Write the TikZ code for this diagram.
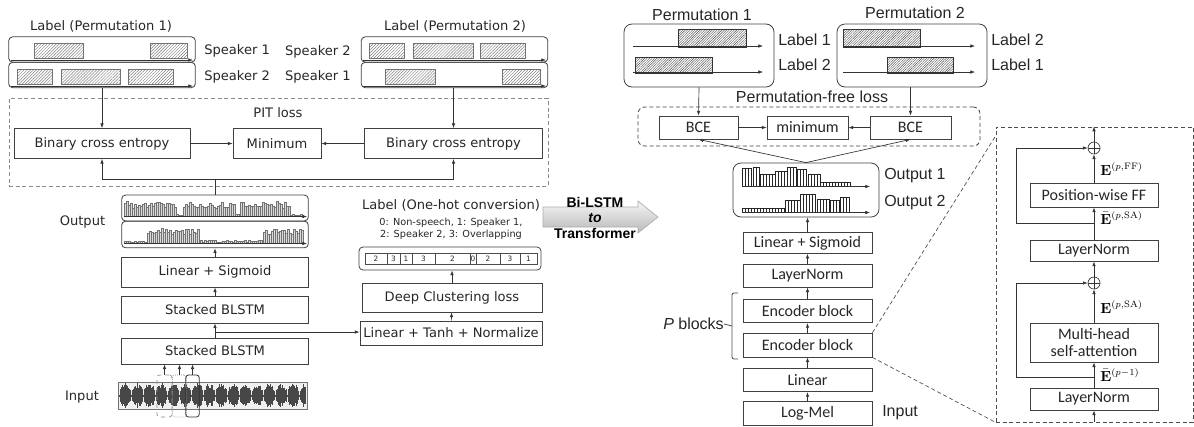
\documentclass[tikz,border=0pt]{standalone}
\usepackage[no-math]{fontspec}
\setmainfont{Liberation Sans}
\newfontfamily\dejavu{DejaVu Sans}
\newfontfamily\carlito{Carlito}
\usetikzlibrary{positioning,arrows.meta,patterns.meta}
\newcommand\ltxt{\dejavu\fontsize{9.8}{11.5}\selectfont}
\newcommand\stxt{\dejavu\fontsize{7.3}{9}\selectfont}
\newcommand\ctxt{\carlito\fontsize{12}{12.8}\selectfont}
\newcommand\atxt{\fontsize{12}{14}\selectfont}

\begin{document}
\begin{tikzpicture}[
  x=0.75pt,y=-0.75pt,
  >={Latex[length=3.5pt,width=2.6pt]},
  every node/.style={inner sep=0pt},
  ltext/.style={font=\ltxt,text=black!85},
  ttext/.style={font=\atxt,text=black!85},
  mtext/.style={anchor=west,font=\fontsize{10.5}{12}\selectfont},
  lbox/.style={draw=black!75,line width=0.6pt,font=\ltxt,text=black!85},
  cbox/.style={draw=black!75,line width=0.6pt,font=\ctxt,text=black!85,minimum width=96.75pt},
  trackbox/.style={draw=black!75,line width=0.6pt,rounded corners=3pt},
  lossframe/.style={draw=black!45,line width=0.7pt,densely dashed},
  hatchL/.style={draw=black!55,line width=0.3pt,pattern={Lines[angle=45,distance=1.6pt,line width=0.35pt]},pattern color=black!50},
  hatchR/.style={draw=black!80,line width=0.4pt,pattern={Lines[angle=45,distance=1.3pt,line width=0.3pt]},pattern color=black!70},
  bar/.style={draw=black!55,fill=gray!30,line width=0.2pt},
  rbar/.style={draw=black!85,fill=white,line width=0.35pt},
  conn/.style={->,draw=black!80,line width=0.5pt},
  timeline/.style={->,draw=black!80,line width=0.4pt},
  zoomline/.style={densely dashed,draw=black!70,line width=0.5pt},
  plus/.style={circle,draw=black!80,line width=0.5pt,minimum size=9pt,
               path picture={\draw[black!80,line width=0.5pt]
                 (path picture bounding box.north) -- (path picture bounding box.south)
                 (path picture bounding box.west) -- (path picture bounding box.east);}},
]
\useasboundingbox (0,0) rectangle (1194,426);
\pgfmathsetseed{11}

% ---------------- left: Bi-LSTM model ----------------
% reference labels, two permutations
\node[ltext] (lab1) at (101,26) {Label (Permutation 1)};
\node[ltext] (lab2) at (455,26) {Label (Permutation 2)};
\node[trackbox,minimum width=140pt,minimum height=19pt] (p1a) at (102,49.5) {};
\node[trackbox,minimum width=140pt,minimum height=19pt] (p1b) at (102,75) {};
\node[trackbox,minimum width=140pt,minimum height=19pt] (p2a) at (454.5,49.5) {};
\node[trackbox,minimum width=140pt,minimum height=19pt] (p2b) at (454.5,75) {};
\foreach \a/\b in {34/83,150/187} \draw[hatchL] (\a,43) rectangle (\b,58);
\foreach \a/\b in {17/52,61/120,128/173} \draw[hatchL] (\a,69) rectangle (\b,84);
\foreach \a/\b in {369/404,413/473,480/525} \draw[hatchL] (\a,43) rectangle (\b,58);
\foreach \a/\b in {385/435,502/540} \draw[hatchL] (\a,69) rectangle (\b,84);
\foreach \y in {60,86}{
  \draw[timeline] (11,\y) -- (193,\y);
  \draw[timeline] (363,\y) -- (546,\y);
}
\node[ltext,anchor=west] (spk1a) at (204,51) {Speaker 1};
\node[ltext,anchor=west] (spk2a) at (204,77) {Speaker 2};
\node[ltext,anchor=east] (spk2b) at (351,52) {Speaker 2};
\node[ltext,anchor=east] (spk1b) at (351,77) {Speaker 1};

% PIT loss
\node[lossframe,minimum width=404.25pt,minimum height=66pt] (pit) at (278.5,142) {};
\node[ltext] (pitl) at (278,113) {PIT loss};
\node[lbox,minimum width=132pt,minimum height=22.5pt] (bce1) at (102,143.5) {Binary cross entropy};
\node[lbox,minimum width=66pt,minimum height=23pt] (pmin) at (277,143.5) {Minimum};
\node[lbox,minimum width=133pt,minimum height=22.5pt] (bce2) at (453.5,143.5) {Binary cross entropy};
\draw[conn] (p1b.south) -- (bce1.north);
\draw[conn] (bce2.north |- p2b.south) -- (bce2.north);
\draw[conn] (bce1) -- (pmin);
\draw[conn] (bce2) -- (pmin);

% network outputs
\node[ltext] (outl) at (82.5,222) {Output};
\node[trackbox,minimum width=140pt,minimum height=19.5pt] (o1) at (215,208) {};
\node[trackbox,minimum width=140pt,minimum height=20pt] (o2) at (215,234.5) {};
\foreach \a/\b/\lo/\hi in {124/176/8/15,176/183/1/2,183/235/8/15,235/240/1/2,240/290/8/15,290/303/1/2}{
  \pgfmathtruncatemacro\n{(\b-\a)/2-1}
  \foreach \k in {0,...,\n}{
    \pgfmathsetmacro\h{\lo+(\hi-\lo)*rnd}
    \draw[bar] ({\a+2*\k},216) rectangle ++(2,-\h);
  }
}
\foreach \a/\b/\lo/\hi in {124/147/1/2,147/200/9/15,200/263/1/3,263/303/9/15}{
  \pgfmathtruncatemacro\n{(\b-\a)/2-1}
  \foreach \k in {0,...,\n}{
    \pgfmathsetmacro\h{\lo+(\hi-\lo)*rnd}
    \draw[bar] ({\a+2*\k},243) rectangle ++(2,-\h);
  }
}
\draw[timeline] (124,216.5) -- (307,216.5);
\draw[timeline] (124,243.5) -- (307,243.5);
\coordinate (join) at (215,179);
\draw[draw=black!80,line width=0.5pt] (o1.north) -- (join);
\draw[conn] (join) -| (bce1.south);
\draw[conn] (join) -| (bce2.south);

% encoder stack
\node[lbox,minimum width=140pt,minimum height=22.5pt] (ls) at (215,272) {Linear + Sigmoid};
\node[lbox,minimum width=140pt,minimum height=20.25pt] (bl2) at (215,309.5) {Stacked BLSTM};
\node[lbox,minimum width=140pt,minimum height=19.5pt] (bl1) at (215,351) {Stacked BLSTM};
\draw[conn] (ls) -- (o2);
\draw[conn] (bl2) -- (ls);

% deep clustering branch
\node[ltext] (ohl) at (451,205) {Label (One-hot conversion)};
\node[font=\stxt,text=black!85,align=center] (ohk) at (451,229) {0: Non-speech, 1: Speaker 1,\\2: Speaker 2, 3: Overlapping};
\node[trackbox,minimum width=136.5pt,minimum height=17.25pt] (oh) at (450,258.5) {};
\foreach \a/\b/\d [count=\c] in {365/387/2,387/400/3,400/412/1,412/435/3,435/470/2,470/476/0,476/500/2,500/520/3,520/537/1}{
  \draw[draw=black!70,line width=0.4pt] (\a,253) rectangle (\b,264);
  \node[font=\dejavu\fontsize{5.5}{6}\selectfont,text=black!85] (cell\c) at ({(\a+\b)/2},258.7) {\d};
}
\node[lbox,minimum width=135pt,minimum height=21.75pt] (dcl) at (452,297.5) {Deep Clustering loss};
\node[lbox,minimum width=136.5pt,minimum height=18pt] (ltn) at (451,333) {Linear + Tanh + Normalize};
\draw[conn] (ltn) -- (dcl);
\draw[conn] (dcl.north) -- (dcl.north |- oh.south);
\coordinate (split) at (215,332);
\draw[draw=black!80,line width=0.5pt] (bl1.north) -- (split);
\draw[conn] (split) -- (bl2.south);
\draw[conn] (split) -- (split -| ltn.west);

% input waveform with frame windows
\node[ltext] (inl) at (82,397) {Input};
\node[draw=black!55,fill=gray!12,line width=0.4pt,minimum width=141.75pt,minimum height=20.25pt] (wave) at (212.5,395.5) {};
\foreach \i in {0,...,186}{
  \pgfmathsetmacro\h{1+11.8*sqrt(abs(sin(\i*15)))*(0.55+0.45*rnd)}
  \draw[black!72,line width=0.8pt] (119.5+\i,395.5-\h) -- (119.5+\i,395.5+\h);
}
\node[draw=black!45,dashed,rounded corners=2pt,line width=0.5pt,minimum width=11.25pt,minimum height=31.5pt] (f1) at (164.5,396) {};
\node[draw=black!45,densely dotted,rounded corners=2pt,line width=0.5pt,minimum width=10.5pt,minimum height=31.5pt] (f2) at (179.5,396) {};
\node[draw=black!80,rounded corners=2pt,line width=0.6pt,minimum width=10pt,minimum height=31.5pt] (f3) at (192.5,396) {};
\foreach \f in {f1,f2,f3} \draw[conn] (\f.north) -- (\f.north |- bl1.south);

% ---------------- middle arrow ----------------
\shade[top color=gray!8,bottom color=gray!55,draw=gray!65,line width=0.5pt]
  (543,207) -- (638,207) -- (638,201) -- (658,217) -- (638,233) -- (638,227) -- (543,227) -- cycle;
\node[font=\bfseries\fontsize{10.5}{12}\selectfont] (mid1) at (595,202) {Bi-LSTM};
\node[font=\bfseries\itshape\fontsize{10.5}{12}\selectfont] (mid2) at (595,218) {to};
\node[font=\bfseries\fontsize{10.5}{12}\selectfont] (mid3) at (595,233) {Transformer};

% ---------------- right: Transformer model ----------------
\node[ttext] (pt1) at (702,15) {Permutation 1};
\node[ttext] (pt2) at (915,13) {Permutation 2};
\node[trackbox,rounded corners=6pt,minimum width=112.5pt,minimum height=47.25pt] (q1) at (699,55.5) {};
\node[trackbox,rounded corners=6pt,minimum width=112.5pt,minimum height=47.25pt] (q2) at (912,55.5) {};
\draw[hatchR] (678,29) rectangle (746,47);
\draw[hatchR] (635,57) rectangle (712,73);
\draw[hatchR] (843,29) rectangle (920,47);
\draw[hatchR] (887,57) rectangle (953,73);
\foreach \y in {46,72}{
  \draw[timeline] (633,\y) -- (763,\y);
  \draw[timeline] (843,\y) -- (975,\y);
}
\node[ttext,anchor=west] (q1l1) at (778,40) {Label 1};
\node[ttext,anchor=west] (q1l2) at (778,65) {Label 2};
\node[ttext,anchor=west] (q2l1) at (991,40) {Label 2};
\node[ttext,anchor=west] (q2l2) at (991,65) {Label 1};

% permutation-free loss
\node[ttext] (pfl) at (812,97) {Permutation-free loss};
\node[draw=black!75,densely dashed,rounded corners=5pt,line width=0.6pt,minimum width=256.5pt,minimum height=29.25pt] (pf) at (809,126.5) {};
\node[cbox,minimum width=59.25pt,minimum height=17.25pt] (bceA) at (698.5,127.5) {BCE};
\node[cbox,minimum width=60.75pt,minimum height=17.25pt] (rmin) at (807.5,127.5) {minimum};
\node[cbox,minimum width=60.75pt,minimum height=17.25pt] (bceB) at (910.5,127.5) {BCE};
\draw[conn] (q1.south) -- (bceA.north);
\draw[conn] (bceB.north |- q2.south) -- (bceB.north);
\draw[conn] (bceA) -- (rmin);
\draw[conn] (bceB) -- (rmin);

% outputs
\node[trackbox,rounded corners=6pt,minimum width=109.5pt,minimum height=40.5pt] (rout) at (806,190) {};
\foreach \a/\b/\h in {742/753/18,753/760/19,760/775/12,775/787/15,787/797/19,797/808/17,808/820/12,820/852/4}{
  \pgfmathtruncatemacro\n{(\b-\a)/3-1}
  \foreach \k in {0,...,\n} \draw[rbar] ({\a+3*\k},186) rectangle ++(3,-\h);
}
\foreach \a/\b/\h in {742/785/4,785/800/12,800/817/18,817/830/13,830/840/12,840/850/15}{
  \pgfmathtruncatemacro\n{(\b-\a)/3-1}
  \foreach \k in {0,...,\n} \draw[rbar] ({\a+3*\k},212) rectangle ++(3,-\h);
}
\draw[timeline] (742,186.5) -- (870,186.5);
\draw[timeline] (742,212.5) -- (870,212.5);
\node[ttext,anchor=west] (ro1) at (884,176) {Output 1};
\node[ttext,anchor=west] (ro2) at (884,203) {Output 2};
\draw[conn] (rout.north) -- (bceA.south);
\draw[conn] (rout.north) -- (bceB.south);

% transformer stack
\node[cbox,minimum height=15.5pt] (rls) at (807.5,243) {Linear + Sigmoid};
\node[cbox,minimum height=17.25pt] (rln) at (807.5,275.5) {LayerNorm};
\node[cbox,minimum height=17.5pt] (enc1) at (807.5,311) {Encoder block};
\node[cbox,minimum height=18pt] (enc2) at (807.5,345) {Encoder block};
\node[cbox,minimum height=17.5pt] (rlin) at (807.5,380) {Linear};
\node[cbox,minimum height=17.5pt] (mel) at (807.5,413.5) {Log-Mel};
\node[ttext,anchor=west] (inr) at (882,413) {Input};
\draw[conn] (mel) -- (rlin);
\draw[conn] (rlin) -- (enc2);
\draw[conn] (enc2) -- (enc1);
\draw[conn] (enc1) -- (rln);
\draw[conn] (rln) -- (rls);
\draw[conn] (rls.north) -- (rls.north |- rout.south);
% P blocks bracket
\node[ttext,anchor=east] (pb) at (724,324) {\textit{P} blocks};
\draw[draw=black!70,line width=0.6pt,rounded corners=1.5pt] (738,293) -- (732,293) -- (732,359) -- (738,359);
\draw[draw=black!70,line width=0.6pt] (732,326) -- (pb.east);

% encoder block detail
\node[draw=black!70,densely dashed,line width=0.6pt,minimum width=147.75pt,minimum height=221.25pt] (det) at (1094.5,274.5) {};
\draw[zoomline] (enc2.north east) -- ([yshift=-7pt]det.north west);
\draw[zoomline] (enc2.south east) -- (det.south west);
\node[plus] (add1) at (1094,148) {};
\node[cbox,minimum width=96pt,minimum height=18pt] (ff) at (1094,195) {Position-wise FF};
\node[cbox,minimum width=96pt,minimum height=15.75pt] (dln1) at (1094,250.5) {LayerNorm};
\node[plus] (add2) at (1094,283) {};
\node[cbox,minimum width=96pt,minimum height=29.25pt,align=center] (mhsa) at (1094,342.5) {Multi-head\\self-attention};
\node[cbox,minimum width=96pt,minimum height=16.5pt] (dln2) at (1094,399) {LayerNorm};
\draw[conn] (dln2.south |- det.south) -- (dln2.south);
\draw[conn] (dln2) -- (mhsa);
\draw[conn] (mhsa) -- (add2);
\draw[conn] (add2) -- (dln1);
\draw[conn] (dln1) -- (ff);
\draw[conn] (ff) -- (add1);
\draw[conn] (add1) -- (add1 |- det.north);
\coordinate (skip1) at (1094,223);
\coordinate (skip2) at (1094,377);
\draw[conn] (skip1) -- ++(-78,0) |- (add1.west);
\draw[conn] (skip2) -- ++(-78,0) |- (add2.west);
\node[mtext] (eff) at (1100,169) {$\mathbf{E}^{(p,\mathrm{FF})}$};
\node[mtext] (esab) at (1100,218) {$\bar{\mathbf{E}}^{(p,\mathrm{SA})}$};
\node[mtext] (esa) at (1100,307) {$\mathbf{E}^{(p,\mathrm{SA})}$};
\node[mtext] (eprev) at (1100,375) {$\bar{\mathbf{E}}^{(p-1)}$};
\end{tikzpicture}
\end{document}
